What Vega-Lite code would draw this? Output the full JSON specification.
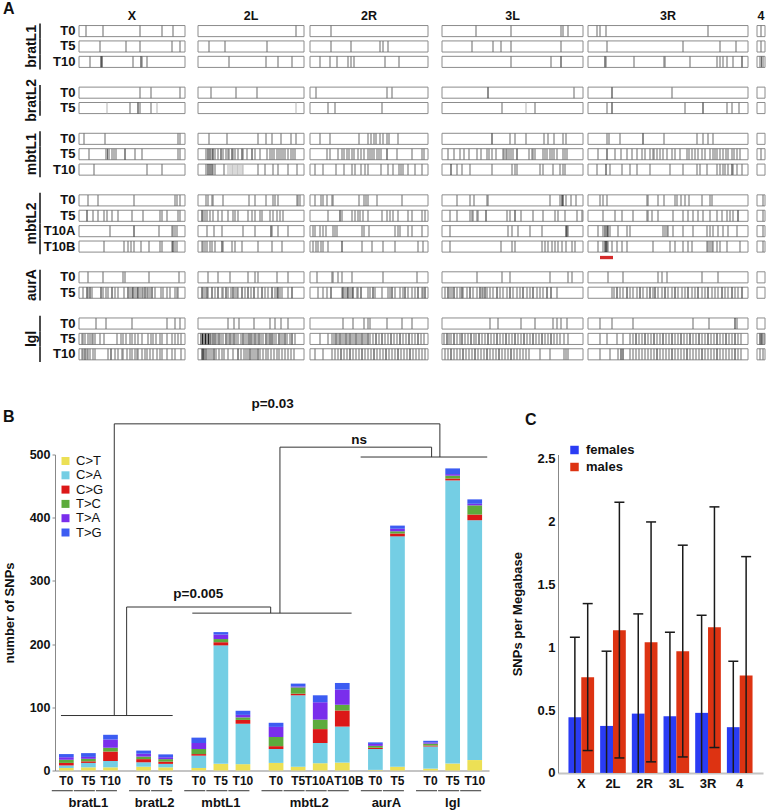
{
"$schema": "https://vega.github.io/schema/vega-lite/v6.json",
"padding": {"left": 3, "top": 0, "right": 0, "bottom": 0},
"background": "white",
"bounds": "flush",
"spacing": 92.5,
"resolve": {"scale": {"x": "independent", "y": "independent", "color": "independent"}, "legend": {"color": "independent"}},
"config": {
  "font": "Liberation Sans",
  "view": {"stroke": null},
  "axis": {"grid": false, "labelColor": "#111", "titleColor": "#111", "labelFont": "Liberation Sans", "titleFont": "Liberation Sans"},
  "legend": {"labelFont": "Liberation Sans"},
  "title": {"font": "Liberation Sans"}
},
"datasets": {
  "chroms": [
    {"c": "X", "s": 1, "e": 107},
    {"c": "2L", "s": 120, "e": 226},
    {"c": "2R", "s": 232, "e": 350},
    {"c": "3L", "s": 364, "e": 505},
    {"c": "3R", "s": 510, "e": 670},
    {"c": "4", "s": 679, "e": 687}
  ],
  "rows": [
    {"r": "bratL1 T0", "g": "bratL1", "t": "T0"},
    {"r": "bratL1 T5", "g": "bratL1", "t": "T5"},
    {"r": "bratL1 T10", "g": "bratL1", "t": "T10"},
    {"r": "bratL2 T0", "g": "bratL2", "t": "T0"},
    {"r": "bratL2 T5", "g": "bratL2", "t": "T5"},
    {"r": "mbtL1 T0", "g": "mbtL1", "t": "T0"},
    {"r": "mbtL1 T5", "g": "mbtL1", "t": "T5"},
    {"r": "mbtL1 T10", "g": "mbtL1", "t": "T10"},
    {"r": "mbtL2 T0", "g": "mbtL2", "t": "T0"},
    {"r": "mbtL2 T5", "g": "mbtL2", "t": "T5"},
    {"r": "mbtL2 T10A", "g": "mbtL2", "t": "T10A"},
    {"r": "mbtL2 T10B", "g": "mbtL2", "t": "T10B"},
    {"r": "aurA T0", "g": "aurA", "t": "T0"},
    {"r": "aurA T5", "g": "aurA", "t": "T5"},
    {"r": "lgl T0", "g": "lgl", "t": "T0"},
    {"r": "lgl T5", "g": "lgl", "t": "T5"},
    {"r": "lgl T10", "g": "lgl", "t": "T10"}
  ],
  "boxes": [
    {"r":"bratL1 T0","c":"X"},{"r":"bratL1 T0","c":"2L"},{"r":"bratL1 T0","c":"2R"},{"r":"bratL1 T0","c":"3L"},{"r":"bratL1 T0","c":"3R"},{"r":"bratL1 T0","c":"4"},
    {"r":"bratL1 T5","c":"X"},{"r":"bratL1 T5","c":"2L"},{"r":"bratL1 T5","c":"2R"},{"r":"bratL1 T5","c":"3L"},{"r":"bratL1 T5","c":"3R"},{"r":"bratL1 T5","c":"4"},
    {"r":"bratL1 T10","c":"X"},{"r":"bratL1 T10","c":"2L"},{"r":"bratL1 T10","c":"2R"},{"r":"bratL1 T10","c":"3L"},{"r":"bratL1 T10","c":"3R"},{"r":"bratL1 T10","c":"4"},
    {"r":"bratL2 T0","c":"X"},{"r":"bratL2 T0","c":"2L"},{"r":"bratL2 T0","c":"2R"},{"r":"bratL2 T0","c":"3L"},{"r":"bratL2 T0","c":"3R"},{"r":"bratL2 T0","c":"4"},
    {"r":"bratL2 T5","c":"X"},{"r":"bratL2 T5","c":"2L"},{"r":"bratL2 T5","c":"2R"},{"r":"bratL2 T5","c":"3L"},{"r":"bratL2 T5","c":"3R"},{"r":"bratL2 T5","c":"4"},
    {"r":"mbtL1 T0","c":"X"},{"r":"mbtL1 T0","c":"2L"},{"r":"mbtL1 T0","c":"2R"},{"r":"mbtL1 T0","c":"3L"},{"r":"mbtL1 T0","c":"3R"},{"r":"mbtL1 T0","c":"4"},
    {"r":"mbtL1 T5","c":"X"},{"r":"mbtL1 T5","c":"2L"},{"r":"mbtL1 T5","c":"2R"},{"r":"mbtL1 T5","c":"3L"},{"r":"mbtL1 T5","c":"3R"},{"r":"mbtL1 T5","c":"4"},
    {"r":"mbtL1 T10","c":"X"},{"r":"mbtL1 T10","c":"2L"},{"r":"mbtL1 T10","c":"2R"},{"r":"mbtL1 T10","c":"3L"},{"r":"mbtL1 T10","c":"3R"},{"r":"mbtL1 T10","c":"4"},
    {"r":"mbtL2 T0","c":"X"},{"r":"mbtL2 T0","c":"2L"},{"r":"mbtL2 T0","c":"2R"},{"r":"mbtL2 T0","c":"3L"},{"r":"mbtL2 T0","c":"3R"},{"r":"mbtL2 T0","c":"4"},
    {"r":"mbtL2 T5","c":"X"},{"r":"mbtL2 T5","c":"2L"},{"r":"mbtL2 T5","c":"2R"},{"r":"mbtL2 T5","c":"3L"},{"r":"mbtL2 T5","c":"3R"},{"r":"mbtL2 T5","c":"4"},
    {"r":"mbtL2 T10A","c":"X"},{"r":"mbtL2 T10A","c":"2L"},{"r":"mbtL2 T10A","c":"2R"},{"r":"mbtL2 T10A","c":"3L"},{"r":"mbtL2 T10A","c":"3R"},{"r":"mbtL2 T10A","c":"4"},
    {"r":"mbtL2 T10B","c":"X"},{"r":"mbtL2 T10B","c":"2L"},{"r":"mbtL2 T10B","c":"2R"},{"r":"mbtL2 T10B","c":"3L"},{"r":"mbtL2 T10B","c":"3R"},{"r":"mbtL2 T10B","c":"4"},
    {"r":"aurA T0","c":"X"},{"r":"aurA T0","c":"2L"},{"r":"aurA T0","c":"2R"},{"r":"aurA T0","c":"3L"},{"r":"aurA T0","c":"3R"},{"r":"aurA T0","c":"4"},
    {"r":"aurA T5","c":"X"},{"r":"aurA T5","c":"2L"},{"r":"aurA T5","c":"2R"},{"r":"aurA T5","c":"3L"},{"r":"aurA T5","c":"3R"},{"r":"aurA T5","c":"4"},
    {"r":"lgl T0","c":"X"},{"r":"lgl T0","c":"2L"},{"r":"lgl T0","c":"2R"},{"r":"lgl T0","c":"3L"},{"r":"lgl T0","c":"3R"},{"r":"lgl T0","c":"4"},
    {"r":"lgl T5","c":"X"},{"r":"lgl T5","c":"2L"},{"r":"lgl T5","c":"2R"},{"r":"lgl T5","c":"3L"},{"r":"lgl T5","c":"3R"},{"r":"lgl T5","c":"4"},
    {"r":"lgl T10","c":"X"},{"r":"lgl T10","c":"2L"},{"r":"lgl T10","c":"2R"},{"r":"lgl T10","c":"3L"},{"r":"lgl T10","c":"3R"},{"r":"lgl T10","c":"4"}
  ],
  "highlight": [{"r": "mbtL2 T10B", "from": 522, "to": 535}],
  "snps": [
    {"r":"bratL1 T0","x":8},{"r":"bratL1 T0","x":25},{"r":"bratL1 T0","x":62},{"r":"bratL1 T0","x":84},{"r":"bratL1 T0","x":95},{"r":"bratL1 T0","x":218},{"r":"bratL1 T0","x":253},{"r":"bratL1 T0","x":398},{"r":"bratL1 T0","x":433},{"r":"bratL1 T0","x":483},{"r":"bratL1 T0","x":485},{"r":"bratL1 T0","x":490},{"r":"bratL1 T0","x":519},{"r":"bratL1 T0","x":522},{"r":"bratL1 T0","x":528},{"r":"bratL1 T0","x":630},{"r":"bratL1 T0","x":683},
    {"r":"bratL1 T5","x":22},{"r":"bratL1 T5","x":48},{"r":"bratL1 T5","x":62},{"r":"bratL1 T5","x":94},{"r":"bratL1 T5","x":102},{"r":"bratL1 T5","x":131},{"r":"bratL1 T5","x":147},{"r":"bratL1 T5","x":189},{"r":"bratL1 T5","x":253},{"r":"bratL1 T5","x":273},{"r":"bratL1 T5","x":302},{"r":"bratL1 T5","x":305},{"r":"bratL1 T5","x":310},{"r":"bratL1 T5","x":394},{"r":"bratL1 T5","x":415},{"r":"bratL1 T5","x":423},{"r":"bratL1 T5","x":433},{"r":"bratL1 T5","x":483},{"r":"bratL1 T5","x":529},{"r":"bratL1 T5","x":605},{"r":"bratL1 T5","x":642},{"r":"bratL1 T5","x":658},{"r":"bratL1 T5","x":683},
    {"r":"bratL1 T10","x":12},{"r":"bratL1 T10","x":23,"k":"d"},{"r":"bratL1 T10","x":24,"k":"d"},{"r":"bratL1 T10","x":55},{"r":"bratL1 T10","x":63,"k":"d"},{"r":"bratL1 T10","x":64},{"r":"bratL1 T10","x":69},{"r":"bratL1 T10","x":151},{"r":"bratL1 T10","x":188},{"r":"bratL1 T10","x":200},{"r":"bratL1 T10","x":214},{"r":"bratL1 T10","x":242},{"r":"bratL1 T10","x":252},{"r":"bratL1 T10","x":259},{"r":"bratL1 T10","x":270},{"r":"bratL1 T10","x":273},{"r":"bratL1 T10","x":276},{"r":"bratL1 T10","x":307},{"r":"bratL1 T10","x":321},{"r":"bratL1 T10","x":433},{"r":"bratL1 T10","x":473},{"r":"bratL1 T10","x":483,"k":"d"},{"r":"bratL1 T10","x":527,"k":"d"},{"r":"bratL1 T10","x":528},{"r":"bratL1 T10","x":556},{"r":"bratL1 T10","x":586},{"r":"bratL1 T10","x":587},{"r":"bratL1 T10","x":612},{"r":"bratL1 T10","x":639},{"r":"bratL1 T10","x":642},{"r":"bratL1 T10","x":645},{"r":"bratL1 T10","x":649},{"r":"bratL1 T10","x":655},{"r":"bratL1 T10","x":664,"k":"d"},{"r":"bratL1 T10","x":682},{"r":"bratL1 T10","x":683.5},{"r":"bratL1 T10","x":685},
    {"r":"bratL2 T0","x":62},{"r":"bratL2 T0","x":73},{"r":"bratL2 T0","x":102},{"r":"bratL2 T0","x":133},{"r":"bratL2 T0","x":158},{"r":"bratL2 T0","x":179},{"r":"bratL2 T0","x":238},{"r":"bratL2 T0","x":309},{"r":"bratL2 T0","x":314},{"r":"bratL2 T0","x":410,"k":"d"},{"r":"bratL2 T0","x":496},{"r":"bratL2 T0","x":534,"k":"d"},{"r":"bratL2 T0","x":594},
    {"r":"bratL2 T5","x":29,"k":"l"},{"r":"bratL2 T5","x":52},{"r":"bratL2 T5","x":60,"k":"d"},{"r":"bratL2 T5","x":62},{"r":"bratL2 T5","x":73},{"r":"bratL2 T5","x":79,"k":"l"},{"r":"bratL2 T5","x":218,"k":"l"},{"r":"bratL2 T5","x":250},{"r":"bratL2 T5","x":257},{"r":"bratL2 T5","x":304},{"r":"bratL2 T5","x":424},{"r":"bratL2 T5","x":448,"k":"l"},{"r":"bratL2 T5","x":457},{"r":"bratL2 T5","x":529},{"r":"bratL2 T5","x":534,"k":"d"},{"r":"bratL2 T5","x":607},{"r":"bratL2 T5","x":625,"k":"d"},{"r":"bratL2 T5","x":649},{"r":"bratL2 T5","x":654},{"r":"bratL2 T5","x":661},
    {"r":"mbtL1 T0","x":6},{"r":"mbtL1 T0","x":27},{"r":"mbtL1 T0","x":100},{"r":"mbtL1 T0","x":102},{"r":"mbtL1 T0","x":131},{"r":"mbtL1 T0","x":149},{"r":"mbtL1 T0","x":180},{"r":"mbtL1 T0","x":188},{"r":"mbtL1 T0","x":194},{"r":"mbtL1 T0","x":203},{"r":"mbtL1 T0","x":213},{"r":"mbtL1 T0","x":218},{"r":"mbtL1 T0","x":242},{"r":"mbtL1 T0","x":252},{"r":"mbtL1 T0","x":281},{"r":"mbtL1 T0","x":290},{"r":"mbtL1 T0","x":293},{"r":"mbtL1 T0","x":296},{"r":"mbtL1 T0","x":298},{"r":"mbtL1 T0","x":302},{"r":"mbtL1 T0","x":305},{"r":"mbtL1 T0","x":309},{"r":"mbtL1 T0","x":311},{"r":"mbtL1 T0","x":320},{"r":"mbtL1 T0","x":414,"k":"d"},{"r":"mbtL1 T0","x":432},{"r":"mbtL1 T0","x":437},{"r":"mbtL1 T0","x":448},{"r":"mbtL1 T0","x":466},{"r":"mbtL1 T0","x":470},{"r":"mbtL1 T0","x":476},{"r":"mbtL1 T0","x":485},{"r":"mbtL1 T0","x":488},{"r":"mbtL1 T0","x":529},{"r":"mbtL1 T0","x":531},{"r":"mbtL1 T0","x":542},{"r":"mbtL1 T0","x":565,"k":"d"},{"r":"mbtL1 T0","x":586},{"r":"mbtL1 T0","x":619},{"r":"mbtL1 T0","x":625},{"r":"mbtL1 T0","x":630},{"r":"mbtL1 T0","x":635},
    {"r":"mbtL1 T5","x":11},{"r":"mbtL1 T5","x":28},{"r":"mbtL1 T5","x":29.5},{"r":"mbtL1 T5","x":31},{"r":"mbtL1 T5","x":34},{"r":"mbtL1 T5","x":36},{"r":"mbtL1 T5","x":38},{"r":"mbtL1 T5","x":47,"k":"d"},{"r":"mbtL1 T5","x":57},{"r":"mbtL1 T5","x":64},{"r":"mbtL1 T5","x":100},{"r":"mbtL1 T5","x":102},
    {"r":"mbtL1 T5","x":128},{"r":"mbtL1 T5","x":130,"k":"d"},{"r":"mbtL1 T5","x":132,"k":"d"},{"r":"mbtL1 T5","x":134},{"r":"mbtL1 T5","x":135,"k":"d"},{"r":"mbtL1 T5","x":137},{"r":"mbtL1 T5","x":140},{"r":"mbtL1 T5","x":143,"k":"d"},{"r":"mbtL1 T5","x":145},{"r":"mbtL1 T5","x":148},{"r":"mbtL1 T5","x":150},{"r":"mbtL1 T5","x":151},{"r":"mbtL1 T5","x":154,"k":"d"},{"r":"mbtL1 T5","x":155},{"r":"mbtL1 T5","x":157},{"r":"mbtL1 T5","x":160},{"r":"mbtL1 T5","x":164,"k":"d"},{"r":"mbtL1 T5","x":165},{"r":"mbtL1 T5","x":169},{"r":"mbtL1 T5","x":174,"k":"d"},{"r":"mbtL1 T5","x":177},{"r":"mbtL1 T5","x":182},{"r":"mbtL1 T5","x":189},{"r":"mbtL1 T5","x":192},{"r":"mbtL1 T5","x":194},{"r":"mbtL1 T5","x":196},{"r":"mbtL1 T5","x":199},{"r":"mbtL1 T5","x":201},{"r":"mbtL1 T5","x":203},{"r":"mbtL1 T5","x":205},{"r":"mbtL1 T5","x":207},{"r":"mbtL1 T5","x":210},{"r":"mbtL1 T5","x":213},{"r":"mbtL1 T5","x":215},{"r":"mbtL1 T5","x":217},
    {"r":"mbtL1 T5","x":249},{"r":"mbtL1 T5","x":252},{"r":"mbtL1 T5","x":260},{"r":"mbtL1 T5","x":264},{"r":"mbtL1 T5","x":266},{"r":"mbtL1 T5","x":269},{"r":"mbtL1 T5","x":271},{"r":"mbtL1 T5","x":274},{"r":"mbtL1 T5","x":276},{"r":"mbtL1 T5","x":280},{"r":"mbtL1 T5","x":283},{"r":"mbtL1 T5","x":286},{"r":"mbtL1 T5","x":290},{"r":"mbtL1 T5","x":292},{"r":"mbtL1 T5","x":294},{"r":"mbtL1 T5","x":296},{"r":"mbtL1 T5","x":299},{"r":"mbtL1 T5","x":301},{"r":"mbtL1 T5","x":303},{"r":"mbtL1 T5","x":309,"k":"d"},{"r":"mbtL1 T5","x":319},{"r":"mbtL1 T5","x":334},{"r":"mbtL1 T5","x":344},{"r":"mbtL1 T5","x":346},
    {"r":"mbtL1 T5","x":370},{"r":"mbtL1 T5","x":376},{"r":"mbtL1 T5","x":382},{"r":"mbtL1 T5","x":386},{"r":"mbtL1 T5","x":391},{"r":"mbtL1 T5","x":399},{"r":"mbtL1 T5","x":403},{"r":"mbtL1 T5","x":409},{"r":"mbtL1 T5","x":411},{"r":"mbtL1 T5","x":414},{"r":"mbtL1 T5","x":418},{"r":"mbtL1 T5","x":425},{"r":"mbtL1 T5","x":426},{"r":"mbtL1 T5","x":428},{"r":"mbtL1 T5","x":429},{"r":"mbtL1 T5","x":431},{"r":"mbtL1 T5","x":433},{"r":"mbtL1 T5","x":435},{"r":"mbtL1 T5","x":439,"k":"d"},{"r":"mbtL1 T5","x":451},{"r":"mbtL1 T5","x":454},{"r":"mbtL1 T5","x":455},{"r":"mbtL1 T5","x":457},{"r":"mbtL1 T5","x":465},{"r":"mbtL1 T5","x":467},{"r":"mbtL1 T5","x":469},{"r":"mbtL1 T5","x":472},{"r":"mbtL1 T5","x":474},{"r":"mbtL1 T5","x":476},{"r":"mbtL1 T5","x":479},{"r":"mbtL1 T5","x":485},{"r":"mbtL1 T5","x":487},{"r":"mbtL1 T5","x":489},
    {"r":"mbtL1 T5","x":520},{"r":"mbtL1 T5","x":529,"k":"d"},{"r":"mbtL1 T5","x":537},{"r":"mbtL1 T5","x":543},{"r":"mbtL1 T5","x":549},{"r":"mbtL1 T5","x":554},{"r":"mbtL1 T5","x":559},{"r":"mbtL1 T5","x":564},{"r":"mbtL1 T5","x":567},{"r":"mbtL1 T5","x":572},{"r":"mbtL1 T5","x":575},{"r":"mbtL1 T5","x":576},{"r":"mbtL1 T5","x":579},{"r":"mbtL1 T5","x":582},{"r":"mbtL1 T5","x":585},{"r":"mbtL1 T5","x":589},{"r":"mbtL1 T5","x":594},{"r":"mbtL1 T5","x":597},{"r":"mbtL1 T5","x":602},{"r":"mbtL1 T5","x":609},{"r":"mbtL1 T5","x":611},{"r":"mbtL1 T5","x":614},{"r":"mbtL1 T5","x":617},{"r":"mbtL1 T5","x":620},{"r":"mbtL1 T5","x":624},{"r":"mbtL1 T5","x":627},{"r":"mbtL1 T5","x":632},{"r":"mbtL1 T5","x":635},{"r":"mbtL1 T5","x":637},{"r":"mbtL1 T5","x":639},{"r":"mbtL1 T5","x":642},{"r":"mbtL1 T5","x":645},{"r":"mbtL1 T5","x":648},{"r":"mbtL1 T5","x":650},{"r":"mbtL1 T5","x":654},{"r":"mbtL1 T5","x":656},{"r":"mbtL1 T5","x":659},{"r":"mbtL1 T5","x":662},{"r":"mbtL1 T5","x":683},
    {"r":"mbtL1 T10","x":16},{"r":"mbtL1 T10","x":69},{"r":"mbtL1 T10","x":84},{"r":"mbtL1 T10","x":128},{"r":"mbtL1 T10","x":130,"k":"d"},{"r":"mbtL1 T10","x":132,"k":"d"},{"r":"mbtL1 T10","x":134,"k":"d"},{"r":"mbtL1 T10","x":135},{"r":"mbtL1 T10","x":137},{"r":"mbtL1 T10","x":146},{"r":"mbtL1 T10","x":150,"k":"l"},{"r":"mbtL1 T10","x":152,"k":"l"},{"r":"mbtL1 T10","x":154,"k":"l"},{"r":"mbtL1 T10","x":155,"k":"l"},{"r":"mbtL1 T10","x":157,"k":"l"},{"r":"mbtL1 T10","x":159,"k":"l"},{"r":"mbtL1 T10","x":160,"k":"l"},{"r":"mbtL1 T10","x":162,"k":"l"},{"r":"mbtL1 T10","x":164,"k":"l"},{"r":"mbtL1 T10","x":165,"k":"l"},{"r":"mbtL1 T10","x":180},{"r":"mbtL1 T10","x":187},{"r":"mbtL1 T10","x":195},{"r":"mbtL1 T10","x":200},{"r":"mbtL1 T10","x":210},{"r":"mbtL1 T10","x":219},
    {"r":"mbtL1 T10","x":237},{"r":"mbtL1 T10","x":245},{"r":"mbtL1 T10","x":258},{"r":"mbtL1 T10","x":266},{"r":"mbtL1 T10","x":274},{"r":"mbtL1 T10","x":277},{"r":"mbtL1 T10","x":283},{"r":"mbtL1 T10","x":287},{"r":"mbtL1 T10","x":290},{"r":"mbtL1 T10","x":303},{"r":"mbtL1 T10","x":310},{"r":"mbtL1 T10","x":315},{"r":"mbtL1 T10","x":321},{"r":"mbtL1 T10","x":323},{"r":"mbtL1 T10","x":325},{"r":"mbtL1 T10","x":330},{"r":"mbtL1 T10","x":337},{"r":"mbtL1 T10","x":344},
    {"r":"mbtL1 T10","x":373,"k":"d"},{"r":"mbtL1 T10","x":379},{"r":"mbtL1 T10","x":384},{"r":"mbtL1 T10","x":392},{"r":"mbtL1 T10","x":414},{"r":"mbtL1 T10","x":434},{"r":"mbtL1 T10","x":437},{"r":"mbtL1 T10","x":439},{"r":"mbtL1 T10","x":462},{"r":"mbtL1 T10","x":465},{"r":"mbtL1 T10","x":475},{"r":"mbtL1 T10","x":482},{"r":"mbtL1 T10","x":485},{"r":"mbtL1 T10","x":487},
    {"r":"mbtL1 T10","x":519},{"r":"mbtL1 T10","x":528,"k":"d"},{"r":"mbtL1 T10","x":532},{"r":"mbtL1 T10","x":544},{"r":"mbtL1 T10","x":552},{"r":"mbtL1 T10","x":559},{"r":"mbtL1 T10","x":572},{"r":"mbtL1 T10","x":592},{"r":"mbtL1 T10","x":605},{"r":"mbtL1 T10","x":619},{"r":"mbtL1 T10","x":622},{"r":"mbtL1 T10","x":629},{"r":"mbtL1 T10","x":639},{"r":"mbtL1 T10","x":642},{"r":"mbtL1 T10","x":645},{"r":"mbtL1 T10","x":647},{"r":"mbtL1 T10","x":650},{"r":"mbtL1 T10","x":654,"k":"d"},{"r":"mbtL1 T10","x":655},{"r":"mbtL1 T10","x":659},{"r":"mbtL1 T10","x":664},
    {"r":"mbtL2 T0","x":10},{"r":"mbtL2 T0","x":20},{"r":"mbtL2 T0","x":56},{"r":"mbtL2 T0","x":97},{"r":"mbtL2 T0","x":99},{"r":"mbtL2 T0","x":102},{"r":"mbtL2 T0","x":128},{"r":"mbtL2 T0","x":130},{"r":"mbtL2 T0","x":134},{"r":"mbtL2 T0","x":135},{"r":"mbtL2 T0","x":145},{"r":"mbtL2 T0","x":171},{"r":"mbtL2 T0","x":177},{"r":"mbtL2 T0","x":188},{"r":"mbtL2 T0","x":195},{"r":"mbtL2 T0","x":197},{"r":"mbtL2 T0","x":200},{"r":"mbtL2 T0","x":219},{"r":"mbtL2 T0","x":220},{"r":"mbtL2 T0","x":222},{"r":"mbtL2 T0","x":237},{"r":"mbtL2 T0","x":243},{"r":"mbtL2 T0","x":245},{"r":"mbtL2 T0","x":249},{"r":"mbtL2 T0","x":254},{"r":"mbtL2 T0","x":255},{"r":"mbtL2 T0","x":281},{"r":"mbtL2 T0","x":286},{"r":"mbtL2 T0","x":288},{"r":"mbtL2 T0","x":290},{"r":"mbtL2 T0","x":299},{"r":"mbtL2 T0","x":324},{"r":"mbtL2 T0","x":379},{"r":"mbtL2 T0","x":392},{"r":"mbtL2 T0","x":396},{"r":"mbtL2 T0","x":409},{"r":"mbtL2 T0","x":410},{"r":"mbtL2 T0","x":472},{"r":"mbtL2 T0","x":482},{"r":"mbtL2 T0","x":484,"k":"d"},{"r":"mbtL2 T0","x":485,"k":"d"},{"r":"mbtL2 T0","x":488},{"r":"mbtL2 T0","x":493},{"r":"mbtL2 T0","x":498},{"r":"mbtL2 T0","x":522},{"r":"mbtL2 T0","x":525},{"r":"mbtL2 T0","x":529},{"r":"mbtL2 T0","x":569},{"r":"mbtL2 T0","x":570},{"r":"mbtL2 T0","x":580},{"r":"mbtL2 T0","x":586},{"r":"mbtL2 T0","x":597},{"r":"mbtL2 T0","x":599},{"r":"mbtL2 T0","x":603},{"r":"mbtL2 T0","x":607},{"r":"mbtL2 T0","x":611},{"r":"mbtL2 T0","x":624},{"r":"mbtL2 T0","x":632},{"r":"mbtL2 T0","x":634},{"r":"mbtL2 T0","x":685},
    {"r":"mbtL2 T5","x":9,"k":"d"},{"r":"mbtL2 T5","x":15},{"r":"mbtL2 T5","x":20},{"r":"mbtL2 T5","x":26},{"r":"mbtL2 T5","x":29},{"r":"mbtL2 T5","x":34},{"r":"mbtL2 T5","x":40},{"r":"mbtL2 T5","x":54},{"r":"mbtL2 T5","x":65},{"r":"mbtL2 T5","x":82},{"r":"mbtL2 T5","x":84},{"r":"mbtL2 T5","x":89},{"r":"mbtL2 T5","x":100},{"r":"mbtL2 T5","x":102},{"r":"mbtL2 T5","x":124,"k":"d"},{"r":"mbtL2 T5","x":125},{"r":"mbtL2 T5","x":127},{"r":"mbtL2 T5","x":129},{"r":"mbtL2 T5","x":132},{"r":"mbtL2 T5","x":135},{"r":"mbtL2 T5","x":140},{"r":"mbtL2 T5","x":144},{"r":"mbtL2 T5","x":150},{"r":"mbtL2 T5","x":155},{"r":"mbtL2 T5","x":157},{"r":"mbtL2 T5","x":160},{"r":"mbtL2 T5","x":170},{"r":"mbtL2 T5","x":174},{"r":"mbtL2 T5","x":177},{"r":"mbtL2 T5","x":182},{"r":"mbtL2 T5","x":184},{"r":"mbtL2 T5","x":192},{"r":"mbtL2 T5","x":195},{"r":"mbtL2 T5","x":199},{"r":"mbtL2 T5","x":202},{"r":"mbtL2 T5","x":205},{"r":"mbtL2 T5","x":250},{"r":"mbtL2 T5","x":262,"k":"d"},{"r":"mbtL2 T5","x":264},{"r":"mbtL2 T5","x":274},{"r":"mbtL2 T5","x":277},{"r":"mbtL2 T5","x":280},{"r":"mbtL2 T5","x":282},{"r":"mbtL2 T5","x":285},{"r":"mbtL2 T5","x":290},{"r":"mbtL2 T5","x":304},{"r":"mbtL2 T5","x":309},{"r":"mbtL2 T5","x":312},{"r":"mbtL2 T5","x":315},{"r":"mbtL2 T5","x":320},{"r":"mbtL2 T5","x":330},{"r":"mbtL2 T5","x":334},{"r":"mbtL2 T5","x":344},{"r":"mbtL2 T5","x":347},{"r":"mbtL2 T5","x":372},{"r":"mbtL2 T5","x":379},{"r":"mbtL2 T5","x":392},{"r":"mbtL2 T5","x":394},{"r":"mbtL2 T5","x":395},{"r":"mbtL2 T5","x":399},{"r":"mbtL2 T5","x":400},{"r":"mbtL2 T5","x":408,"k":"d"},{"r":"mbtL2 T5","x":429},{"r":"mbtL2 T5","x":432},{"r":"mbtL2 T5","x":437,"k":"d"},{"r":"mbtL2 T5","x":443},{"r":"mbtL2 T5","x":455},{"r":"mbtL2 T5","x":465},{"r":"mbtL2 T5","x":477},{"r":"mbtL2 T5","x":480},{"r":"mbtL2 T5","x":487},{"r":"mbtL2 T5","x":499},{"r":"mbtL2 T5","x":504},{"r":"mbtL2 T5","x":525},{"r":"mbtL2 T5","x":537},{"r":"mbtL2 T5","x":544},{"r":"mbtL2 T5","x":555},{"r":"mbtL2 T5","x":569},{"r":"mbtL2 T5","x":570},{"r":"mbtL2 T5","x":574},{"r":"mbtL2 T5","x":580},{"r":"mbtL2 T5","x":595},{"r":"mbtL2 T5","x":605},{"r":"mbtL2 T5","x":610},{"r":"mbtL2 T5","x":615},{"r":"mbtL2 T5","x":620},{"r":"mbtL2 T5","x":625},{"r":"mbtL2 T5","x":632},{"r":"mbtL2 T5","x":639},{"r":"mbtL2 T5","x":644},{"r":"mbtL2 T5","x":649},{"r":"mbtL2 T5","x":652},{"r":"mbtL2 T5","x":655},{"r":"mbtL2 T5","x":660,"k":"d"},{"r":"mbtL2 T5","x":685},
    {"r":"mbtL2 T10A","x":32},{"r":"mbtL2 T10A","x":56,"k":"d"},{"r":"mbtL2 T10A","x":81},{"r":"mbtL2 T10A","x":94},{"r":"mbtL2 T10A","x":95},{"r":"mbtL2 T10A","x":97},{"r":"mbtL2 T10A","x":99},{"r":"mbtL2 T10A","x":129},{"r":"mbtL2 T10A","x":136},{"r":"mbtL2 T10A","x":144},{"r":"mbtL2 T10A","x":165},{"r":"mbtL2 T10A","x":177},{"r":"mbtL2 T10A","x":193,"k":"d"},{"r":"mbtL2 T10A","x":194},{"r":"mbtL2 T10A","x":200},{"r":"mbtL2 T10A","x":210},{"r":"mbtL2 T10A","x":235},{"r":"mbtL2 T10A","x":237},{"r":"mbtL2 T10A","x":242},{"r":"mbtL2 T10A","x":245},{"r":"mbtL2 T10A","x":248},{"r":"mbtL2 T10A","x":255},{"r":"mbtL2 T10A","x":257},{"r":"mbtL2 T10A","x":259},{"r":"mbtL2 T10A","x":284},{"r":"mbtL2 T10A","x":286},{"r":"mbtL2 T10A","x":291},{"r":"mbtL2 T10A","x":317},{"r":"mbtL2 T10A","x":320},{"r":"mbtL2 T10A","x":322},{"r":"mbtL2 T10A","x":330},{"r":"mbtL2 T10A","x":334},{"r":"mbtL2 T10A","x":344},{"r":"mbtL2 T10A","x":372},{"r":"mbtL2 T10A","x":430},{"r":"mbtL2 T10A","x":434},{"r":"mbtL2 T10A","x":440},{"r":"mbtL2 T10A","x":452},{"r":"mbtL2 T10A","x":464},{"r":"mbtL2 T10A","x":488,"k":"d"},{"r":"mbtL2 T10A","x":489,"k":"d"},{"r":"mbtL2 T10A","x":490},{"r":"mbtL2 T10A","x":520},{"r":"mbtL2 T10A","x":525},{"r":"mbtL2 T10A","x":527,"k":"d"},{"r":"mbtL2 T10A","x":529,"k":"d"},{"r":"mbtL2 T10A","x":530,"k":"d"},{"r":"mbtL2 T10A","x":532},{"r":"mbtL2 T10A","x":540},{"r":"mbtL2 T10A","x":549},{"r":"mbtL2 T10A","x":552},{"r":"mbtL2 T10A","x":585},{"r":"mbtL2 T10A","x":587},{"r":"mbtL2 T10A","x":589},{"r":"mbtL2 T10A","x":590},{"r":"mbtL2 T10A","x":595},{"r":"mbtL2 T10A","x":605},{"r":"mbtL2 T10A","x":615},{"r":"mbtL2 T10A","x":629},{"r":"mbtL2 T10A","x":632},{"r":"mbtL2 T10A","x":635},{"r":"mbtL2 T10A","x":640},{"r":"mbtL2 T10A","x":645},{"r":"mbtL2 T10A","x":650},{"r":"mbtL2 T10A","x":659},{"r":"mbtL2 T10A","x":685},
    {"r":"mbtL2 T10B","x":26},{"r":"mbtL2 T10B","x":46},{"r":"mbtL2 T10B","x":50},{"r":"mbtL2 T10B","x":53},{"r":"mbtL2 T10B","x":56},{"r":"mbtL2 T10B","x":63},{"r":"mbtL2 T10B","x":71},{"r":"mbtL2 T10B","x":82},{"r":"mbtL2 T10B","x":84},{"r":"mbtL2 T10B","x":94},{"r":"mbtL2 T10B","x":95,"k":"d"},{"r":"mbtL2 T10B","x":97},{"r":"mbtL2 T10B","x":99},{"r":"mbtL2 T10B","x":124},{"r":"mbtL2 T10B","x":125},{"r":"mbtL2 T10B","x":127},{"r":"mbtL2 T10B","x":129},{"r":"mbtL2 T10B","x":132},{"r":"mbtL2 T10B","x":134},{"r":"mbtL2 T10B","x":137},{"r":"mbtL2 T10B","x":144,"k":"d"},{"r":"mbtL2 T10B","x":145},{"r":"mbtL2 T10B","x":154},{"r":"mbtL2 T10B","x":157},{"r":"mbtL2 T10B","x":164},{"r":"mbtL2 T10B","x":180},{"r":"mbtL2 T10B","x":194},{"r":"mbtL2 T10B","x":204},{"r":"mbtL2 T10B","x":235},{"r":"mbtL2 T10B","x":238},{"r":"mbtL2 T10B","x":240},{"r":"mbtL2 T10B","x":243},{"r":"mbtL2 T10B","x":245},{"r":"mbtL2 T10B","x":250},{"r":"mbtL2 T10B","x":264,"k":"d"},{"r":"mbtL2 T10B","x":284},{"r":"mbtL2 T10B","x":294},{"r":"mbtL2 T10B","x":305},{"r":"mbtL2 T10B","x":317},{"r":"mbtL2 T10B","x":340},{"r":"mbtL2 T10B","x":345},{"r":"mbtL2 T10B","x":372},{"r":"mbtL2 T10B","x":423},{"r":"mbtL2 T10B","x":434},{"r":"mbtL2 T10B","x":437},{"r":"mbtL2 T10B","x":464},{"r":"mbtL2 T10B","x":467},{"r":"mbtL2 T10B","x":470},{"r":"mbtL2 T10B","x":474},{"r":"mbtL2 T10B","x":477},{"r":"mbtL2 T10B","x":480},{"r":"mbtL2 T10B","x":484},{"r":"mbtL2 T10B","x":488},{"r":"mbtL2 T10B","x":494},{"r":"mbtL2 T10B","x":497},{"r":"mbtL2 T10B","x":520},{"r":"mbtL2 T10B","x":525},{"r":"mbtL2 T10B","x":527,"k":"d"},{"r":"mbtL2 T10B","x":528,"k":"d"},{"r":"mbtL2 T10B","x":529,"k":"d"},{"r":"mbtL2 T10B","x":530},{"r":"mbtL2 T10B","x":534},{"r":"mbtL2 T10B","x":539},{"r":"mbtL2 T10B","x":544},{"r":"mbtL2 T10B","x":549},{"r":"mbtL2 T10B","x":575},{"r":"mbtL2 T10B","x":592},{"r":"mbtL2 T10B","x":597},{"r":"mbtL2 T10B","x":605},{"r":"mbtL2 T10B","x":610},{"r":"mbtL2 T10B","x":614},{"r":"mbtL2 T10B","x":629},{"r":"mbtL2 T10B","x":630},{"r":"mbtL2 T10B","x":632},{"r":"mbtL2 T10B","x":634},{"r":"mbtL2 T10B","x":635},{"r":"mbtL2 T10B","x":639},{"r":"mbtL2 T10B","x":642},{"r":"mbtL2 T10B","x":649},{"r":"mbtL2 T10B","x":662},{"r":"mbtL2 T10B","x":685},
    {"r":"aurA T0","x":10},{"r":"aurA T0","x":25},{"r":"aurA T0","x":45},{"r":"aurA T0","x":47},{"r":"aurA T0","x":71},{"r":"aurA T0","x":101},{"r":"aurA T0","x":130},{"r":"aurA T0","x":140},{"r":"aurA T0","x":152},{"r":"aurA T0","x":170},{"r":"aurA T0","x":177},{"r":"aurA T0","x":180},{"r":"aurA T0","x":199},{"r":"aurA T0","x":210},{"r":"aurA T0","x":239},{"r":"aurA T0","x":254},{"r":"aurA T0","x":255},{"r":"aurA T0","x":260},{"r":"aurA T0","x":264},{"r":"aurA T0","x":274},{"r":"aurA T0","x":305},{"r":"aurA T0","x":339},{"r":"aurA T0","x":399},{"r":"aurA T0","x":424},{"r":"aurA T0","x":432},{"r":"aurA T0","x":472},{"r":"aurA T0","x":490},{"r":"aurA T0","x":494},{"r":"aurA T0","x":530},{"r":"aurA T0","x":545},{"r":"aurA T0","x":580},{"r":"aurA T0","x":584},{"r":"aurA T0","x":589},{"r":"aurA T0","x":624},{"r":"aurA T0","x":640},
    {"r":"aurA T5","x":5},{"r":"aurA T5","x":9,"k":"d"},{"r":"aurA T5","x":10},{"r":"aurA T5","x":12,"k":"d"},{"r":"aurA T5","x":14},{"r":"aurA T5","x":23,"k":"d"},{"r":"aurA T5","x":25},{"r":"aurA T5","x":28},{"r":"aurA T5","x":30},{"r":"aurA T5","x":34,"k":"d"},{"r":"aurA T5","x":37},{"r":"aurA T5","x":40},{"r":"aurA T5","x":46},{"r":"aurA T5","x":50,"k":"d"},{"r":"aurA T5","x":52},{"r":"aurA T5","x":54},{"r":"aurA T5","x":55,"k":"d"},{"r":"aurA T5","x":57},{"r":"aurA T5","x":59},{"r":"aurA T5","x":60,"k":"d"},{"r":"aurA T5","x":62},{"r":"aurA T5","x":64},{"r":"aurA T5","x":65},{"r":"aurA T5","x":67,"k":"d"},{"r":"aurA T5","x":69},{"r":"aurA T5","x":70},{"r":"aurA T5","x":72},{"r":"aurA T5","x":74,"k":"d"},{"r":"aurA T5","x":77},{"r":"aurA T5","x":83},{"r":"aurA T5","x":85},{"r":"aurA T5","x":89},{"r":"aurA T5","x":92},{"r":"aurA T5","x":97},{"r":"aurA T5","x":99},{"r":"aurA T5","x":100},
    {"r":"aurA T5","x":124,"k":"d"},{"r":"aurA T5","x":125},{"r":"aurA T5","x":127},{"r":"aurA T5","x":129,"k":"d"},{"r":"aurA T5","x":130},{"r":"aurA T5","x":134,"k":"d"},{"r":"aurA T5","x":137},{"r":"aurA T5","x":140,"k":"d"},{"r":"aurA T5","x":144},{"r":"aurA T5","x":145},{"r":"aurA T5","x":148,"k":"d"},{"r":"aurA T5","x":150},{"r":"aurA T5","x":153},{"r":"aurA T5","x":155,"k":"d"},{"r":"aurA T5","x":157},{"r":"aurA T5","x":159},{"r":"aurA T5","x":160},{"r":"aurA T5","x":164,"k":"d"},{"r":"aurA T5","x":167},{"r":"aurA T5","x":170,"k":"d"},{"r":"aurA T5","x":173},{"r":"aurA T5","x":176,"k":"d"},{"r":"aurA T5","x":180},{"r":"aurA T5","x":184,"k":"d"},{"r":"aurA T5","x":187},{"r":"aurA T5","x":190},{"r":"aurA T5","x":194,"k":"d"},{"r":"aurA T5","x":197},{"r":"aurA T5","x":199},{"r":"aurA T5","x":200,"k":"d"},{"r":"aurA T5","x":202},{"r":"aurA T5","x":204},{"r":"aurA T5","x":210},{"r":"aurA T5","x":214,"k":"d"},
    {"r":"aurA T5","x":240},{"r":"aurA T5","x":245},{"r":"aurA T5","x":249},{"r":"aurA T5","x":253,"k":"d"},{"r":"aurA T5","x":264},{"r":"aurA T5","x":265,"k":"d"},{"r":"aurA T5","x":267},{"r":"aurA T5","x":269},{"r":"aurA T5","x":270,"k":"d"},{"r":"aurA T5","x":272},{"r":"aurA T5","x":274},{"r":"aurA T5","x":275,"k":"d"},{"r":"aurA T5","x":279},{"r":"aurA T5","x":280},{"r":"aurA T5","x":283,"k":"d"},{"r":"aurA T5","x":290},{"r":"aurA T5","x":292},{"r":"aurA T5","x":295,"k":"d"},{"r":"aurA T5","x":297},{"r":"aurA T5","x":304},{"r":"aurA T5","x":310},{"r":"aurA T5","x":312},{"r":"aurA T5","x":314,"k":"d"},{"r":"aurA T5","x":317},{"r":"aurA T5","x":322},{"r":"aurA T5","x":325},{"r":"aurA T5","x":327,"k":"d"},{"r":"aurA T5","x":330},{"r":"aurA T5","x":334},{"r":"aurA T5","x":337},{"r":"aurA T5","x":340,"k":"d"},{"r":"aurA T5","x":344},{"r":"aurA T5","x":345},{"r":"aurA T5","x":347,"k":"d"},
    {"r":"aurA T5","x":367},{"r":"aurA T5","x":370,"k":"d"},{"r":"aurA T5","x":372},{"r":"aurA T5","x":374},{"r":"aurA T5","x":376,"k":"d"},{"r":"aurA T5","x":379},{"r":"aurA T5","x":382},{"r":"aurA T5","x":384,"k":"d"},{"r":"aurA T5","x":385},{"r":"aurA T5","x":389},{"r":"aurA T5","x":392,"k":"d"},{"r":"aurA T5","x":395},{"r":"aurA T5","x":399},{"r":"aurA T5","x":402,"k":"d"},{"r":"aurA T5","x":404},{"r":"aurA T5","x":405},{"r":"aurA T5","x":407,"k":"d"},{"r":"aurA T5","x":409},{"r":"aurA T5","x":412},{"r":"aurA T5","x":415},{"r":"aurA T5","x":419,"k":"d"},{"r":"aurA T5","x":422},{"r":"aurA T5","x":425},{"r":"aurA T5","x":429},{"r":"aurA T5","x":432,"k":"d"},{"r":"aurA T5","x":435},{"r":"aurA T5","x":439},{"r":"aurA T5","x":442},{"r":"aurA T5","x":445,"k":"d"},{"r":"aurA T5","x":449},{"r":"aurA T5","x":452},{"r":"aurA T5","x":455,"k":"d"},{"r":"aurA T5","x":459},{"r":"aurA T5","x":462},{"r":"aurA T5","x":465},{"r":"aurA T5","x":469,"k":"d"},{"r":"aurA T5","x":473,"k":"d"},{"r":"aurA T5","x":479},
    {"r":"aurA T5","x":534},{"r":"aurA T5","x":536},{"r":"aurA T5","x":539,"k":"d"},{"r":"aurA T5","x":542},{"r":"aurA T5","x":545},{"r":"aurA T5","x":549,"k":"d"},{"r":"aurA T5","x":552},{"r":"aurA T5","x":555},{"r":"aurA T5","x":559},{"r":"aurA T5","x":562,"k":"d"},{"r":"aurA T5","x":565},{"r":"aurA T5","x":569},{"r":"aurA T5","x":572,"k":"d"},{"r":"aurA T5","x":575},{"r":"aurA T5","x":577,"k":"d"},{"r":"aurA T5","x":580},{"r":"aurA T5","x":584},{"r":"aurA T5","x":587,"k":"d"},{"r":"aurA T5","x":590},{"r":"aurA T5","x":594},{"r":"aurA T5","x":597,"k":"d"},{"r":"aurA T5","x":600},{"r":"aurA T5","x":604},{"r":"aurA T5","x":607},{"r":"aurA T5","x":610,"k":"d"},{"r":"aurA T5","x":614},{"r":"aurA T5","x":617},{"r":"aurA T5","x":620,"k":"d"},{"r":"aurA T5","x":624},{"r":"aurA T5","x":627},{"r":"aurA T5","x":630,"k":"d"},{"r":"aurA T5","x":634},{"r":"aurA T5","x":637},{"r":"aurA T5","x":640},{"r":"aurA T5","x":644,"k":"d"},{"r":"aurA T5","x":647},{"r":"aurA T5","x":650},{"r":"aurA T5","x":654,"k":"d"},{"r":"aurA T5","x":657},{"r":"aurA T5","x":660},{"r":"aurA T5","x":664,"k":"d"},
    {"r":"lgl T0","x":18},{"r":"lgl T0","x":28},{"r":"lgl T0","x":54},{"r":"lgl T0","x":89},{"r":"lgl T0","x":97},{"r":"lgl T0","x":102},{"r":"lgl T0","x":150},{"r":"lgl T0","x":156},{"r":"lgl T0","x":161},{"r":"lgl T0","x":176},{"r":"lgl T0","x":192},{"r":"lgl T0","x":197},{"r":"lgl T0","x":203},{"r":"lgl T0","x":210},{"r":"lgl T0","x":265},{"r":"lgl T0","x":275},{"r":"lgl T0","x":286},{"r":"lgl T0","x":290},{"r":"lgl T0","x":292},{"r":"lgl T0","x":309},{"r":"lgl T0","x":324},{"r":"lgl T0","x":334},{"r":"lgl T0","x":412},{"r":"lgl T0","x":420},{"r":"lgl T0","x":443},{"r":"lgl T0","x":457},{"r":"lgl T0","x":475},{"r":"lgl T0","x":479},{"r":"lgl T0","x":483},{"r":"lgl T0","x":489},{"r":"lgl T0","x":522},{"r":"lgl T0","x":534},{"r":"lgl T0","x":555},{"r":"lgl T0","x":615},{"r":"lgl T0","x":631},{"r":"lgl T0","x":657,"k":"d"},{"r":"lgl T0","x":659},
    {"r":"lgl T5","x":4},{"r":"lgl T5","x":5},{"r":"lgl T5","x":7},{"r":"lgl T5","x":10},{"r":"lgl T5","x":12},{"r":"lgl T5","x":14},{"r":"lgl T5","x":15},{"r":"lgl T5","x":17},{"r":"lgl T5","x":22},{"r":"lgl T5","x":26},{"r":"lgl T5","x":39},{"r":"lgl T5","x":43},{"r":"lgl T5","x":45},{"r":"lgl T5","x":48},{"r":"lgl T5","x":52},{"r":"lgl T5","x":54},{"r":"lgl T5","x":57},{"r":"lgl T5","x":60},{"r":"lgl T5","x":64},{"r":"lgl T5","x":70},{"r":"lgl T5","x":73},{"r":"lgl T5","x":75},{"r":"lgl T5","x":78},{"r":"lgl T5","x":82},{"r":"lgl T5","x":84},{"r":"lgl T5","x":89},{"r":"lgl T5","x":94},{"r":"lgl T5","x":97},{"r":"lgl T5","x":100},{"r":"lgl T5","x":103},
    {"r":"lgl T5","x":123,"k":"d"},{"r":"lgl T5","x":124.5,"k":"d"},{"r":"lgl T5","x":126,"k":"d"},{"r":"lgl T5","x":127.5,"k":"d"},{"r":"lgl T5","x":129,"k":"d"},{"r":"lgl T5","x":130.5,"k":"d"},{"r":"lgl T5","x":132,"k":"d"},{"r":"lgl T5","x":133},{"r":"lgl T5","x":135,"k":"d"},{"r":"lgl T5","x":137,"k":"d"},{"r":"lgl T5","x":139},{"r":"lgl T5","x":141,"k":"d"},{"r":"lgl T5","x":143},{"r":"lgl T5","x":145},{"r":"lgl T5","x":148,"k":"d"},{"r":"lgl T5","x":150},{"r":"lgl T5","x":152,"k":"d"},{"r":"lgl T5","x":154},{"r":"lgl T5","x":156,"k":"d"},{"r":"lgl T5","x":158},{"r":"lgl T5","x":160},{"r":"lgl T5","x":163},{"r":"lgl T5","x":165,"k":"d"},{"r":"lgl T5","x":167},{"r":"lgl T5","x":169},{"r":"lgl T5","x":171,"k":"d"},{"r":"lgl T5","x":173,"k":"d"},{"r":"lgl T5","x":175},{"r":"lgl T5","x":177,"k":"d"},{"r":"lgl T5","x":179},{"r":"lgl T5","x":181,"k":"d"},{"r":"lgl T5","x":183},{"r":"lgl T5","x":185},{"r":"lgl T5","x":188,"k":"d"},{"r":"lgl T5","x":190},{"r":"lgl T5","x":192,"k":"d"},{"r":"lgl T5","x":194,"k":"d"},{"r":"lgl T5","x":196},{"r":"lgl T5","x":198},{"r":"lgl T5","x":201,"k":"d"},{"r":"lgl T5","x":203},{"r":"lgl T5","x":205},{"r":"lgl T5","x":207,"k":"d"},{"r":"lgl T5","x":209},{"r":"lgl T5","x":212},{"r":"lgl T5","x":214,"k":"d"},{"r":"lgl T5","x":217},
    {"r":"lgl T5","x":242},{"r":"lgl T5","x":250},{"r":"lgl T5","x":254},{"r":"lgl T5","x":256},{"r":"lgl T5","x":258,"k":"d"},{"r":"lgl T5","x":260},{"r":"lgl T5","x":262,"k":"d"},{"r":"lgl T5","x":264},{"r":"lgl T5","x":266},{"r":"lgl T5","x":268,"k":"d"},{"r":"lgl T5","x":270},{"r":"lgl T5","x":272,"k":"d"},{"r":"lgl T5","x":274},{"r":"lgl T5","x":276},{"r":"lgl T5","x":278,"k":"d"},{"r":"lgl T5","x":280},{"r":"lgl T5","x":282},{"r":"lgl T5","x":284,"k":"d"},{"r":"lgl T5","x":286},{"r":"lgl T5","x":288},{"r":"lgl T5","x":290,"k":"d"},{"r":"lgl T5","x":292},{"r":"lgl T5","x":295},{"r":"lgl T5","x":298,"k":"d"},{"r":"lgl T5","x":301},{"r":"lgl T5","x":304,"k":"d"},{"r":"lgl T5","x":307},{"r":"lgl T5","x":310},{"r":"lgl T5","x":313,"k":"d"},{"r":"lgl T5","x":316},{"r":"lgl T5","x":319},{"r":"lgl T5","x":322,"k":"d"},{"r":"lgl T5","x":325},{"r":"lgl T5","x":328},{"r":"lgl T5","x":331,"k":"d"},{"r":"lgl T5","x":334},{"r":"lgl T5","x":337},{"r":"lgl T5","x":340,"k":"d"},{"r":"lgl T5","x":343},{"r":"lgl T5","x":346},
    {"r":"lgl T5","x":366},{"r":"lgl T5","x":369,"k":"d"},{"r":"lgl T5","x":371},{"r":"lgl T5","x":373},{"r":"lgl T5","x":376,"k":"d"},{"r":"lgl T5","x":379},{"r":"lgl T5","x":382},{"r":"lgl T5","x":384,"k":"d"},{"r":"lgl T5","x":387},{"r":"lgl T5","x":390},{"r":"lgl T5","x":393,"k":"d"},{"r":"lgl T5","x":396},{"r":"lgl T5","x":398},{"r":"lgl T5","x":401,"k":"d"},{"r":"lgl T5","x":404},{"r":"lgl T5","x":407},{"r":"lgl T5","x":410,"k":"d"},{"r":"lgl T5","x":413},{"r":"lgl T5","x":416},{"r":"lgl T5","x":419,"k":"d"},{"r":"lgl T5","x":422},{"r":"lgl T5","x":425},{"r":"lgl T5","x":428,"k":"d"},{"r":"lgl T5","x":431},{"r":"lgl T5","x":434},{"r":"lgl T5","x":437,"k":"d"},{"r":"lgl T5","x":440},{"r":"lgl T5","x":443},{"r":"lgl T5","x":446,"k":"d"},{"r":"lgl T5","x":449},{"r":"lgl T5","x":452},{"r":"lgl T5","x":455,"k":"d"},{"r":"lgl T5","x":458},{"r":"lgl T5","x":461},{"r":"lgl T5","x":464,"k":"d"},{"r":"lgl T5","x":467},{"r":"lgl T5","x":470},{"r":"lgl T5","x":473,"k":"d"},{"r":"lgl T5","x":476},{"r":"lgl T5","x":479},{"r":"lgl T5","x":482},{"r":"lgl T5","x":486},{"r":"lgl T5","x":490},
    {"r":"lgl T5","x":522},{"r":"lgl T5","x":529},{"r":"lgl T5","x":539},{"r":"lgl T5","x":545},{"r":"lgl T5","x":552},{"r":"lgl T5","x":555},{"r":"lgl T5","x":558,"k":"d"},{"r":"lgl T5","x":561},{"r":"lgl T5","x":564},{"r":"lgl T5","x":567,"k":"d"},{"r":"lgl T5","x":570},{"r":"lgl T5","x":573},{"r":"lgl T5","x":576,"k":"d"},{"r":"lgl T5","x":579},{"r":"lgl T5","x":582},{"r":"lgl T5","x":585,"k":"d"},{"r":"lgl T5","x":588},{"r":"lgl T5","x":591},{"r":"lgl T5","x":594,"k":"d"},{"r":"lgl T5","x":597},{"r":"lgl T5","x":600},{"r":"lgl T5","x":603,"k":"d"},{"r":"lgl T5","x":606},{"r":"lgl T5","x":609},{"r":"lgl T5","x":612,"k":"d"},{"r":"lgl T5","x":615},{"r":"lgl T5","x":618},{"r":"lgl T5","x":621,"k":"d"},{"r":"lgl T5","x":624},{"r":"lgl T5","x":627},{"r":"lgl T5","x":630,"k":"d"},{"r":"lgl T5","x":633},{"r":"lgl T5","x":636},{"r":"lgl T5","x":639,"k":"d"},{"r":"lgl T5","x":642},{"r":"lgl T5","x":645},{"r":"lgl T5","x":648,"k":"d"},{"r":"lgl T5","x":651},{"r":"lgl T5","x":654},{"r":"lgl T5","x":657,"k":"d"},{"r":"lgl T5","x":660},{"r":"lgl T5","x":663},{"r":"lgl T5","x":682,"k":"d"},{"r":"lgl T5","x":683},{"r":"lgl T5","x":684,"k":"d"},{"r":"lgl T5","x":686},
    {"r":"lgl T10","x":4},{"r":"lgl T10","x":5},{"r":"lgl T10","x":7,"k":"d"},{"r":"lgl T10","x":9},{"r":"lgl T10","x":10},{"r":"lgl T10","x":12},{"r":"lgl T10","x":15},{"r":"lgl T10","x":17},{"r":"lgl T10","x":30},{"r":"lgl T10","x":33,"k":"d"},{"r":"lgl T10","x":37},{"r":"lgl T10","x":40},{"r":"lgl T10","x":44},{"r":"lgl T10","x":45},{"r":"lgl T10","x":49},{"r":"lgl T10","x":52},{"r":"lgl T10","x":54},{"r":"lgl T10","x":57},{"r":"lgl T10","x":59},{"r":"lgl T10","x":60},{"r":"lgl T10","x":64},{"r":"lgl T10","x":67},{"r":"lgl T10","x":69},{"r":"lgl T10","x":72},{"r":"lgl T10","x":75},{"r":"lgl T10","x":79},{"r":"lgl T10","x":82},{"r":"lgl T10","x":84},{"r":"lgl T10","x":89},{"r":"lgl T10","x":94},{"r":"lgl T10","x":97},{"r":"lgl T10","x":103},
    {"r":"lgl T10","x":124,"k":"d"},{"r":"lgl T10","x":125,"k":"d"},{"r":"lgl T10","x":126,"k":"d"},{"r":"lgl T10","x":128,"k":"d"},{"r":"lgl T10","x":130},{"r":"lgl T10","x":132},{"r":"lgl T10","x":134},{"r":"lgl T10","x":136,"k":"d"},{"r":"lgl T10","x":138},{"r":"lgl T10","x":141},{"r":"lgl T10","x":144},{"r":"lgl T10","x":146},{"r":"lgl T10","x":150},{"r":"lgl T10","x":155},{"r":"lgl T10","x":160,"k":"d"},{"r":"lgl T10","x":163},{"r":"lgl T10","x":166},{"r":"lgl T10","x":168},{"r":"lgl T10","x":170},{"r":"lgl T10","x":172,"k":"d"},{"r":"lgl T10","x":174},{"r":"lgl T10","x":176},{"r":"lgl T10","x":178},{"r":"lgl T10","x":180,"k":"d"},{"r":"lgl T10","x":182},{"r":"lgl T10","x":185},{"r":"lgl T10","x":188},{"r":"lgl T10","x":190},{"r":"lgl T10","x":193},{"r":"lgl T10","x":196},{"r":"lgl T10","x":199},{"r":"lgl T10","x":201},{"r":"lgl T10","x":204},{"r":"lgl T10","x":207},{"r":"lgl T10","x":210},{"r":"lgl T10","x":213},{"r":"lgl T10","x":216},
    {"r":"lgl T10","x":237},{"r":"lgl T10","x":245},{"r":"lgl T10","x":254},{"r":"lgl T10","x":257},{"r":"lgl T10","x":260},{"r":"lgl T10","x":263,"k":"d"},{"r":"lgl T10","x":266},{"r":"lgl T10","x":269},{"r":"lgl T10","x":272,"k":"d"},{"r":"lgl T10","x":275},{"r":"lgl T10","x":278},{"r":"lgl T10","x":281},{"r":"lgl T10","x":284,"k":"d"},{"r":"lgl T10","x":287},{"r":"lgl T10","x":290},{"r":"lgl T10","x":293},{"r":"lgl T10","x":296,"k":"d"},{"r":"lgl T10","x":299},{"r":"lgl T10","x":302},{"r":"lgl T10","x":305},{"r":"lgl T10","x":308,"k":"d"},{"r":"lgl T10","x":311},{"r":"lgl T10","x":314},{"r":"lgl T10","x":317},{"r":"lgl T10","x":320,"k":"d"},{"r":"lgl T10","x":323},{"r":"lgl T10","x":326},{"r":"lgl T10","x":329},{"r":"lgl T10","x":332,"k":"d"},{"r":"lgl T10","x":335},{"r":"lgl T10","x":338},{"r":"lgl T10","x":341},{"r":"lgl T10","x":344},{"r":"lgl T10","x":347},
    {"r":"lgl T10","x":367},{"r":"lgl T10","x":370},{"r":"lgl T10","x":373,"k":"d"},{"r":"lgl T10","x":376},{"r":"lgl T10","x":379},{"r":"lgl T10","x":382},{"r":"lgl T10","x":385,"k":"d"},{"r":"lgl T10","x":388},{"r":"lgl T10","x":391},{"r":"lgl T10","x":394},{"r":"lgl T10","x":397,"k":"d"},{"r":"lgl T10","x":400},{"r":"lgl T10","x":403},{"r":"lgl T10","x":406},{"r":"lgl T10","x":409,"k":"d"},{"r":"lgl T10","x":412},{"r":"lgl T10","x":415},{"r":"lgl T10","x":418},{"r":"lgl T10","x":421,"k":"d"},{"r":"lgl T10","x":424},{"r":"lgl T10","x":427},{"r":"lgl T10","x":430},{"r":"lgl T10","x":433,"k":"d"},{"r":"lgl T10","x":436},{"r":"lgl T10","x":439},{"r":"lgl T10","x":442},{"r":"lgl T10","x":445},{"r":"lgl T10","x":448},{"r":"lgl T10","x":451},{"r":"lgl T10","x":462},{"r":"lgl T10","x":472},{"r":"lgl T10","x":486},{"r":"lgl T10","x":488},{"r":"lgl T10","x":490},
    {"r":"lgl T10","x":522},{"r":"lgl T10","x":532},{"r":"lgl T10","x":540},{"r":"lgl T10","x":543,"k":"d"},{"r":"lgl T10","x":545,"k":"d"},{"r":"lgl T10","x":552},{"r":"lgl T10","x":555},{"r":"lgl T10","x":558},{"r":"lgl T10","x":561},{"r":"lgl T10","x":564},{"r":"lgl T10","x":567},{"r":"lgl T10","x":570},{"r":"lgl T10","x":573},{"r":"lgl T10","x":576},{"r":"lgl T10","x":579,"k":"d"},{"r":"lgl T10","x":582},{"r":"lgl T10","x":585},{"r":"lgl T10","x":588},{"r":"lgl T10","x":591},{"r":"lgl T10","x":594,"k":"d"},{"r":"lgl T10","x":597},{"r":"lgl T10","x":600},{"r":"lgl T10","x":603},{"r":"lgl T10","x":606},{"r":"lgl T10","x":609,"k":"d"},{"r":"lgl T10","x":612},{"r":"lgl T10","x":615},{"r":"lgl T10","x":618},{"r":"lgl T10","x":621},{"r":"lgl T10","x":624,"k":"d"},{"r":"lgl T10","x":627},{"r":"lgl T10","x":630},{"r":"lgl T10","x":633},{"r":"lgl T10","x":636},{"r":"lgl T10","x":639,"k":"d"},{"r":"lgl T10","x":642},{"r":"lgl T10","x":645},{"r":"lgl T10","x":648},{"r":"lgl T10","x":651},{"r":"lgl T10","x":654},{"r":"lgl T10","x":657,"k":"d"},{"r":"lgl T10","x":660},{"r":"lgl T10","x":663},{"r":"lgl T10","x":682},{"r":"lgl T10","x":685}
  ],
  "snpTypes": [
    {"s":"bratL1 T0","m":"C>T","n":4},{"s":"bratL1 T0","m":"C>A","n":4},{"s":"bratL1 T0","m":"C>G","n":4},{"s":"bratL1 T0","m":"T>C","n":5},{"s":"bratL1 T0","m":"T>A","n":4},{"s":"bratL1 T0","m":"T>G","n":5},
    {"s":"bratL1 T5","m":"C>T","n":5},{"s":"bratL1 T5","m":"C>A","n":7},{"s":"bratL1 T5","m":"C>G","n":2.5},{"s":"bratL1 T5","m":"T>C","n":4},{"s":"bratL1 T5","m":"T>A","n":3},{"s":"bratL1 T5","m":"T>G","n":6},
    {"s":"bratL1 T10","m":"C>T","n":5},{"s":"bratL1 T10","m":"C>A","n":10},{"s":"bratL1 T10","m":"C>G","n":15},{"s":"bratL1 T10","m":"T>C","n":6},{"s":"bratL1 T10","m":"T>A","n":13},{"s":"bratL1 T10","m":"T>G","n":7.5},
    {"s":"bratL2 T0","m":"C>T","n":6},{"s":"bratL2 T0","m":"C>A","n":7},{"s":"bratL2 T0","m":"C>G","n":5},{"s":"bratL2 T0","m":"T>C","n":4},{"s":"bratL2 T0","m":"T>A","n":4.5},{"s":"bratL2 T0","m":"T>G","n":5},
    {"s":"bratL2 T5","m":"C>T","n":5},{"s":"bratL2 T5","m":"C>A","n":5.5},{"s":"bratL2 T5","m":"C>G","n":3.5},{"s":"bratL2 T5","m":"T>C","n":4},{"s":"bratL2 T5","m":"T>A","n":3},{"s":"bratL2 T5","m":"T>G","n":4.5},
    {"s":"mbtL1 T0","m":"C>T","n":4},{"s":"mbtL1 T0","m":"C>A","n":19.5},{"s":"mbtL1 T0","m":"C>G","n":2.5},{"s":"mbtL1 T0","m":"T>C","n":8},{"s":"mbtL1 T0","m":"T>A","n":9.5},{"s":"mbtL1 T0","m":"T>G","n":8.5},
    {"s":"mbtL1 T5","m":"C>T","n":10.5},{"s":"mbtL1 T5","m":"C>A","n":187.5},{"s":"mbtL1 T5","m":"C>G","n":5},{"s":"mbtL1 T5","m":"T>C","n":5},{"s":"mbtL1 T5","m":"T>A","n":7},{"s":"mbtL1 T5","m":"T>G","n":4},
    {"s":"mbtL1 T10","m":"C>T","n":10},{"s":"mbtL1 T10","m":"C>A","n":64},{"s":"mbtL1 T10","m":"C>G","n":6},{"s":"mbtL1 T10","m":"T>C","n":4},{"s":"mbtL1 T10","m":"T>A","n":4},{"s":"mbtL1 T10","m":"T>G","n":6.5},
    {"s":"mbtL2 T0","m":"C>T","n":12},{"s":"mbtL2 T0","m":"C>A","n":22},{"s":"mbtL2 T0","m":"C>G","n":4.5},{"s":"mbtL2 T0","m":"T>C","n":14.5},{"s":"mbtL2 T0","m":"T>A","n":16},{"s":"mbtL2 T0","m":"T>G","n":6.5},
    {"s":"mbtL2 T5","m":"C>T","n":6},{"s":"mbtL2 T5","m":"C>A","n":113},{"s":"mbtL2 T5","m":"C>G","n":2.5},{"s":"mbtL2 T5","m":"T>C","n":10},{"s":"mbtL2 T5","m":"T>A","n":1.5},{"s":"mbtL2 T5","m":"T>G","n":4.5},
    {"s":"mbtL2 T10A","m":"C>T","n":11.5},{"s":"mbtL2 T10A","m":"C>A","n":32},{"s":"mbtL2 T10A","m":"C>G","n":22},{"s":"mbtL2 T10A","m":"T>C","n":15},{"s":"mbtL2 T10A","m":"T>A","n":27.5},{"s":"mbtL2 T10A","m":"T>G","n":11},
    {"s":"mbtL2 T10B","m":"C>T","n":12.5},{"s":"mbtL2 T10B","m":"C>A","n":57},{"s":"mbtL2 T10B","m":"C>G","n":25.5},{"s":"mbtL2 T10B","m":"T>C","n":9},{"s":"mbtL2 T10B","m":"T>A","n":24},{"s":"mbtL2 T10B","m":"T>G","n":10.5},
    {"s":"aurA T0","m":"C>T","n":1},{"s":"aurA T0","m":"C>A","n":33},{"s":"aurA T0","m":"C>G","n":2},{"s":"aurA T0","m":"T>C","n":3},{"s":"aurA T0","m":"T>A","n":3},{"s":"aurA T0","m":"T>G","n":2.5},
    {"s":"aurA T5","m":"C>T","n":6},{"s":"aurA T5","m":"C>A","n":364.5},{"s":"aurA T5","m":"C>G","n":4.5},{"s":"aurA T5","m":"T>C","n":3.5},{"s":"aurA T5","m":"T>A","n":4},{"s":"aurA T5","m":"T>G","n":5},
    {"s":"lgl T0","m":"C>T","n":3},{"s":"lgl T0","m":"C>A","n":35},{"s":"lgl T0","m":"C>G","n":1.5},{"s":"lgl T0","m":"T>C","n":3},{"s":"lgl T0","m":"T>A","n":2},{"s":"lgl T0","m":"T>G","n":2.5},
    {"s":"lgl T5","m":"C>T","n":11},{"s":"lgl T5","m":"C>A","n":448},{"s":"lgl T5","m":"C>G","n":3},{"s":"lgl T5","m":"T>C","n":4.5},{"s":"lgl T5","m":"T>A","n":2.5},{"s":"lgl T5","m":"T>G","n":9},
    {"s":"lgl T10","m":"C>T","n":16.5},{"s":"lgl T10","m":"C>A","n":379.5},{"s":"lgl T10","m":"C>G","n":9},{"s":"lgl T10","m":"T>C","n":14.5},{"s":"lgl T10","m":"T>A","n":2.5},{"s":"lgl T10","m":"T>G","n":7}
  ],
  "density": [
    {"c":"X","sex":"females","v":0.443,"lo":-0.194,"hi":1.08},
    {"c":"X","sex":"males","v":0.762,"lo":0.178,"hi":1.348},
    {"c":"2L","sex":"females","v":0.374,"lo":-0.221,"hi":0.969},
    {"c":"2L","sex":"males","v":1.136,"lo":0.119,"hi":2.155},
    {"c":"2R","sex":"females","v":0.472,"lo":-0.322,"hi":1.266},
    {"c":"2R","sex":"males","v":1.04,"lo":0.088,"hi":1.998},
    {"c":"3L","sex":"females","v":0.451,"lo":-0.218,"hi":1.12},
    {"c":"3L","sex":"males","v":0.969,"lo":0.127,"hi":1.813},
    {"c":"3R","sex":"females","v":0.478,"lo":-0.299,"hi":1.255},
    {"c":"3R","sex":"males","v":1.16,"lo":0.202,"hi":2.118},
    {"c":"4","sex":"females","v":0.364,"lo":-0.161,"hi":0.889},
    {"c":"4","sex":"males","v":0.775,"lo":-0.172,"hi":1.722}
  ]
},
"vconcat": [
  {
    "width": 718, "height": 354,
    "title": {"text": "A", "anchor": "start", "frame": "group", "offset": 0, "baseline": "middle", "align": "left", "dx": -52, "dy": 16.5, "fontSize": 16, "fontWeight": "bold", "color": "#111"},
    "layer": [
      {
        "data": {"name": "boxes"},
        "transform": [{"lookup": "c", "from": {"data": {"name": "chroms"}, "key": "c", "fields": ["s", "e"]}}],
        "mark": {"type": "rect", "fill": "white", "stroke": "#8c8c8c", "strokeWidth": 1},
        "encoding": {
          "x": {"field": "s", "type": "quantitative", "scale": {"domain": [-23, 695], "nice": false, "zero": false}, "axis": null},
          "x2": {"field": "e"},
          "y": {"field": "r", "type": "nominal", "axis": null, "scale": {"type": "band", "paddingInner": 0.28, "paddingOuter": 0.14, "domain": ["hdr","bratL1 T0","bratL1 T5","bratL1 T10","g1","bratL2 T0","bratL2 T5","g2","mbtL1 T0","mbtL1 T5","mbtL1 T10","g3","mbtL2 T0","mbtL2 T5","mbtL2 T10A","mbtL2 T10B","g4","aurA T0","aurA T5","g5","lgl T0","lgl T5","lgl T10"]}}
        }
      },
      {
        "data": {"name": "snps"},
        "mark": {"type": "tick", "size": 11, "thickness": 1, "opacity": 1},
        "encoding": {
          "x": {"field": "x", "type": "quantitative"},
          "y": {"field": "r", "type": "nominal"},
          "color": {"condition": [{"test": "datum.k === 'd'", "value": "#1e1e1e"}, {"test": "datum.k === 'l'", "value": "#b4b4b4"}], "value": "#6a6a6a"}
        }
      },
      {
        "data": {"name": "highlight"},
        "mark": {"type": "rule", "color": "#d42a2a", "strokeWidth": 3.3},
        "encoding": {
          "x": {"field": "from", "type": "quantitative"},
          "x2": {"field": "to"},
          "y": {"field": "r", "type": "nominal", "bandPosition": 1.49}
        }
      },
      {
        "data": {"name": "chroms"},
        "transform": [{"calculate": "(datum.s + datum.e) / 2", "as": "mid"}],
        "mark": {"type": "text", "fontSize": 12.5, "fontWeight": "bold", "fill": "#111", "align": "center", "baseline": "middle"},
        "encoding": {
          "x": {"field": "mid", "type": "quantitative"},
          "y": {"datum": "hdr", "type": "nominal"},
          "text": {"field": "c"}
        }
      },
      {
        "data": {"name": "rows"},
        "mark": {"type": "text", "fontSize": 13, "fontWeight": "bold", "fill": "#111", "align": "right", "baseline": "middle"},
        "encoding": {
          "x": {"datum": -2.5, "type": "quantitative"},
          "y": {"field": "r", "type": "nominal"},
          "text": {"field": "t"}
        }
      },
      {
        "data": {"name": "rows"},
        "mark": {"type": "tick", "size": 15.4, "thickness": 1.5, "opacity": 1, "color": "#111"},
        "encoding": {
          "x": {"datum": -38, "type": "quantitative"},
          "y": {"field": "r", "type": "nominal"}
        }
      },
      {
        "data": {"name": "rows"},
        "transform": [{"filter": {"field": "r", "oneOf": ["bratL1 T5", "mbtL1 T5", "lgl T5"]}}],
        "mark": {"type": "text", "fontSize": 14, "fontWeight": "bold", "fill": "#111", "align": "center", "baseline": "middle", "angle": 270},
        "encoding": {
          "x": {"datum": -46, "type": "quantitative"},
          "y": {"field": "r", "type": "nominal"},
          "text": {"field": "g"}
        }
      },
      {
        "data": {"name": "rows"},
        "transform": [{"filter": {"field": "r", "oneOf": ["bratL2 T0", "mbtL2 T5", "aurA T0"]}}],
        "mark": {"type": "text", "fontSize": 14, "fontWeight": "bold", "fill": "#111", "align": "center", "baseline": "middle", "angle": 270},
        "encoding": {
          "x": {"datum": -46, "type": "quantitative"},
          "y": {"field": "r", "type": "nominal", "bandPosition": 1.195},
          "text": {"field": "g"}
        }
      }
    ]
  },
  {
    "hconcat": [
      {
        "width": 434, "height": 316,
        "title": {"text": "B", "anchor": "start", "frame": "group", "offset": 0, "baseline": "middle", "align": "left", "dx": -52, "dy": 36.4, "fontSize": 16, "fontWeight": "bold", "color": "#111"},
        "layer": [
          {
            "data": {"name": "snpTypes"},
            "transform": [{"calculate": "indexof(['C>T','C>A','C>G','T>C','T>A','T>G'], datum.m)", "as": "o"}],
            "mark": {"type": "bar", "width": {"band": 1.332}, "xOffset": 4.06},
            "encoding": {
              "x": {"field": "s", "type": "nominal",
                    "scale": {"domain": ["bratL1 T0","p1","bratL1 T5","p2","bratL1 T10","p3","sp1","bratL2 T0","p4","bratL2 T5","p5","sp2","mbtL1 T0","p6","mbtL1 T5","p7","mbtL1 T10","p8","sp3","mbtL2 T0","p9","mbtL2 T5","p10","mbtL2 T10A","p11","mbtL2 T10B","p12","sp4","aurA T0","p13","aurA T5","p14","sp5","lgl T0","p15","lgl T5","p16","lgl T10","p17"], "paddingInner": 0, "paddingOuter": 0.16},
                    "axis": {"title": null, "labelExpr": "indexof(datum.value, ' ') > 0 ? split(datum.value, ' ')[1] : ''", "labelAngle": 0, "labelFontSize": 12, "labelFontWeight": "bold", "ticks": false, "labelPadding": 4.5, "domainColor": "#c4c4c4", "domainWidth": 2, "labelOverlap": false, "labelBound": false,
                             "labelOffset": {"condition": [{"test": "datum.value === 'mbtL2 T10A'", "value": 3.3}, {"test": "datum.value === 'mbtL2 T10B'", "value": 10.7}], "value": 4.06}}},
              "y": {"field": "n", "type": "quantitative", "stack": "zero",
                    "scale": {"domain": [0, 500], "nice": false},
                    "axis": {"title": "number of SNPs", "values": [0, 100, 200, 300, 400, 500], "labelFontSize": 12.5, "labelFontWeight": "bold", "tickSize": 3, "tickColor": "#888", "domainColor": "#888", "labelPadding": 2, "titleFontSize": 13, "titleFontWeight": "bold", "titlePadding": 13}},
              "color": {"field": "m", "type": "nominal",
                        "scale": {"domain": ["C>T","C>A","C>G","T>C","T>A","T>G"], "range": ["#ece055","#74cee4","#dc1818","#5cab3c","#7a2eec","#3c5cf2"]},
                        "legend": {"title": null, "orient": "none", "legendX": 4, "legendY": 0, "symbolType": "square", "symbolSize": 64, "symbolStrokeWidth": 0, "labelFontSize": 13, "labelColor": "#111", "rowPadding": 0.3, "padding": 0, "labelOffset": 4}},
              "order": {"field": "o", "type": "quantitative"}
            }
          },
          {
            "data": {"name": "snpTypes"},
            "transform": [{"filter": "datum.m === 'C>T'"}],
            "mark": {"type": "tick", "size": 21, "thickness": 1, "opacity": 1, "color": "#333"},
            "encoding": {
              "x": {"field": "s", "type": "nominal", "bandPosition": 0.868},
              "y": {"datum": -32, "type": "quantitative"}
            }
          },
          {
            "data": {"name": "snpTypes"},
            "transform": [{"filter": "datum.m === 'C>T'"}, {"filter": {"field": "s", "oneOf": ["bratL1 T5", "mbtL1 T5", "lgl T5"]}}, {"calculate": "split(datum.s, ' ')[0]", "as": "g"}],
            "mark": {"type": "text", "fontSize": 13, "fontWeight": "bold", "fill": "#111", "align": "center", "baseline": "middle"},
            "encoding": {
              "x": {"field": "s", "type": "nominal", "bandPosition": 0.868},
              "y": {"datum": -52, "type": "quantitative"},
              "text": {"field": "g"}
            }
          },
          {
            "data": {"name": "snpTypes"},
            "transform": [{"filter": "datum.m === 'C>T'"}, {"filter": {"field": "s", "oneOf": ["bratL2 T0", "mbtL2 T5", "aurA T0"]}}, {"calculate": "split(datum.s, ' ')[0]", "as": "g"}],
            "mark": {"type": "text", "fontSize": 13, "fontWeight": "bold", "fill": "#111", "align": "center", "baseline": "middle"},
            "encoding": {
              "x": {"field": "s", "type": "nominal", "bandPosition": 1.868},
              "y": {"datum": -52, "type": "quantitative"},
              "text": {"field": "g"}
            }
          },
          {"data": {"values": [{}]}, "mark": {"type": "rule", "color": "#333", "strokeWidth": 1},
           "encoding": {"x": {"datum": "bratL1 T0", "type": "nominal", "bandPosition": 0.38}, "x2": {"datum": "bratL2 T5", "bandPosition": 1.5}, "y": {"datum": 87, "type": "quantitative"}}},
          {"data": {"values": [{}]}, "mark": {"type": "rule", "color": "#333", "strokeWidth": 1},
           "encoding": {"x": {"datum": "mbtL1 T0", "type": "nominal", "bandPosition": 0.28}, "x2": {"datum": "mbtL2 T10B", "bandPosition": 1.71}, "y": {"datum": 249, "type": "quantitative"}}},
          {"data": {"values": [{}]}, "mark": {"type": "rule", "color": "#333", "strokeWidth": 1},
           "encoding": {"x": {"datum": "aurA T0", "type": "nominal", "bandPosition": -0.47}, "x2": {"datum": "lgl T10", "bandPosition": 2.0}, "y": {"datum": 496, "type": "quantitative"}}},
          {"data": {"values": [{}]}, "mark": {"type": "rule", "color": "#333", "strokeWidth": 1},
           "encoding": {"x": {"datum": "sp1", "type": "nominal", "bandPosition": 0.33}, "x2": {"datum": "mbtL2 T0", "bandPosition": 0.38}, "y": {"datum": 258.7, "type": "quantitative"}}},
          {"data": {"values": [{}]}, "mark": {"type": "rule", "color": "#333", "strokeWidth": 1},
           "encoding": {"x": {"datum": "mbtL2 T0", "type": "nominal", "bandPosition": 1.22}, "x2": {"datum": "lgl T0", "bandPosition": 0.96}, "y": {"datum": 511.6, "type": "quantitative"}}},
          {"data": {"values": [{}]}, "mark": {"type": "rule", "color": "#333", "strokeWidth": 1},
           "encoding": {"x": {"datum": "bratL1 T10", "type": "nominal", "bandPosition": 1.21}, "x2": {"datum": "lgl T0", "bandPosition": 1.71}, "y": {"datum": 548.5, "type": "quantitative"}}},
          {"data": {"values": [{}]}, "mark": {"type": "rule", "color": "#333", "strokeWidth": 1},
           "encoding": {"x": {"datum": "bratL1 T10", "type": "nominal", "bandPosition": 1.21}, "y": {"datum": 87, "type": "quantitative"}, "y2": {"datum": 548.5}}},
          {"data": {"values": [{}]}, "mark": {"type": "rule", "color": "#333", "strokeWidth": 1},
           "encoding": {"x": {"datum": "lgl T0", "type": "nominal", "bandPosition": 1.71}, "y": {"datum": 496, "type": "quantitative"}, "y2": {"datum": 548.5}}},
          {"data": {"values": [{}]}, "mark": {"type": "rule", "color": "#333", "strokeWidth": 1},
           "encoding": {"x": {"datum": "mbtL2 T0", "type": "nominal", "bandPosition": 1.22}, "y": {"datum": 249, "type": "quantitative"}, "y2": {"datum": 511.6}}},
          {"data": {"values": [{}]}, "mark": {"type": "rule", "color": "#333", "strokeWidth": 1},
           "encoding": {"x": {"datum": "lgl T0", "type": "nominal", "bandPosition": 0.96}, "y": {"datum": 496, "type": "quantitative"}, "y2": {"datum": 511.6}}},
          {"data": {"values": [{}]}, "mark": {"type": "rule", "color": "#333", "strokeWidth": 1},
           "encoding": {"x": {"datum": "sp1", "type": "nominal", "bandPosition": 0.33}, "y": {"datum": 87, "type": "quantitative"}, "y2": {"datum": 258.7}}},
          {"data": {"values": [{}]}, "mark": {"type": "rule", "color": "#333", "strokeWidth": 1},
           "encoding": {"x": {"datum": "mbtL2 T0", "type": "nominal", "bandPosition": 0.38}, "y": {"datum": 249, "type": "quantitative"}, "y2": {"datum": 258.7}}},
          {"data": {"values": [{"t": "p=0.03"}]}, "mark": {"type": "text", "fontSize": 13.5, "fontWeight": "bold", "fill": "#111", "align": "center", "baseline": "middle"},
           "encoding": {"x": {"datum": "mbtL2 T0", "type": "nominal", "bandPosition": 0.56}, "y": {"datum": 580, "type": "quantitative"}, "text": {"field": "t"}}},
          {"data": {"values": [{"t": "ns"}]}, "mark": {"type": "text", "fontSize": 13.5, "fontWeight": "bold", "fill": "#111", "align": "center", "baseline": "middle"},
           "encoding": {"x": {"datum": "sp4", "type": "nominal", "bandPosition": 0.4}, "y": {"datum": 523.7, "type": "quantitative"}, "text": {"field": "t"}}},
          {"data": {"values": [{"t": "p=0.005"}]}, "mark": {"type": "text", "fontSize": 13.5, "fontWeight": "bold", "fill": "#111", "align": "center", "baseline": "middle"},
           "encoding": {"x": {"datum": "mbtL1 T0", "type": "nominal", "bandPosition": 0.82}, "y": {"datum": 279.8, "type": "quantitative"}, "text": {"field": "t"}}}
        ]
      },
      {
        "width": 205, "height": 318.4,
        "title": {"text": "C", "anchor": "start", "frame": "group", "offset": 0, "baseline": "middle", "align": "left", "dx": -33, "dy": -7.3, "fontSize": 16, "fontWeight": "bold", "color": "#111"},
        "data": {"name": "density"},
        "layer": [
          {
            "mark": {"type": "bar"},
            "encoding": {
              "x": {"field": "c", "type": "nominal", "sort": null,
                    "scale": {"domain": ["X","2L","2R","3L","3R","4"], "paddingInner": 0.19, "paddingOuter": 0.33},
                    "axis": {"title": null, "labelAngle": 0, "labelFontSize": 13, "labelFontWeight": "bold", "ticks": false, "labelPadding": 5, "domainColor": "#c4c4c4", "domainWidth": 2}},
              "xOffset": {"field": "sex", "type": "nominal", "scale": {"domain": ["females", "males"], "paddingInner": 0, "paddingOuter": 0}},
              "y": {"field": "v", "type": "quantitative",
                    "scale": {"domain": [0, 2.535], "nice": false, "clamp": true},
                    "axis": {"title": "SNPs per Megabase", "values": [0, 0.5, 1, 1.5, 2, 2.5], "format": "~g", "labelFontSize": 13, "labelFontWeight": "bold", "ticks": false, "labelPadding": 3, "domainColor": "#888", "titleFontSize": 13, "titleFontWeight": "bold", "titlePadding": 12.5}},
              "color": {"field": "sex", "type": "nominal",
                        "scale": {"domain": ["females", "males"], "range": ["#2a3cf4", "#dd3312"]},
                        "legend": {"title": null, "orient": "none", "legendX": 10, "legendY": -11, "symbolType": "square", "symbolSize": 72, "symbolStrokeWidth": 0, "labelFontSize": 13, "labelFontWeight": "bold", "labelColor": "#111", "rowPadding": 3, "padding": 0, "labelOffset": 5}}
            }
          },
          {
            "mark": {"type": "rule", "color": "#1a1a1a", "strokeWidth": 1.5},
            "encoding": {
              "x": {"field": "c", "type": "nominal"},
              "xOffset": {"field": "sex", "type": "nominal"},
              "y": {"field": "lo", "type": "quantitative"},
              "y2": {"field": "hi"}
            }
          },
          {
            "mark": {"type": "tick", "size": 10, "thickness": 1.5, "opacity": 1, "color": "#1a1a1a"},
            "encoding": {
              "x": {"field": "c", "type": "nominal"},
              "xOffset": {"field": "sex", "type": "nominal"},
              "y": {"field": "hi", "type": "quantitative"}
            }
          },
          {
            "transform": [{"filter": "datum.lo > 0"}],
            "mark": {"type": "tick", "size": 10, "thickness": 1.5, "opacity": 1, "color": "#1a1a1a"},
            "encoding": {
              "x": {"field": "c", "type": "nominal"},
              "xOffset": {"field": "sex", "type": "nominal"},
              "y": {"field": "lo", "type": "quantitative"}
            }
          }
        ]
      }
    ],
    "spacing": 69,
    "bounds": "flush",
    "resolve": {"scale": {"x": "independent", "y": "independent", "color": "independent"}, "legend": {"color": "independent"}}
  }
]
}
